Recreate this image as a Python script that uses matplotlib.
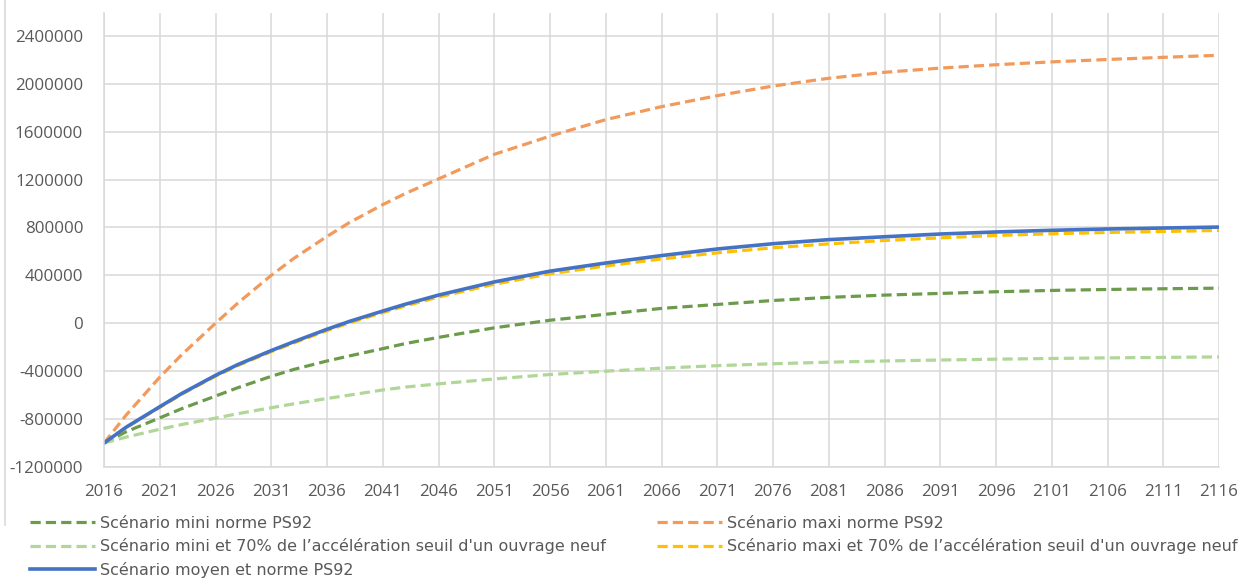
import matplotlib.pyplot as plt
from matplotlib.lines import Line2D
import numpy as np

# sample years (denser where the curves bend most)
years = [2016, 2018, 2021, 2023, 2026, 2028, 2031, 2033, 2036, 2038, 2041, 2043,
         2046, 2051, 2056, 2061, 2066, 2071, 2076, 2081, 2086, 2091, 2096, 2101,
         2106, 2111, 2116]

mini_ps92 = [-1000000, -905000, -790000, -712000, -608000, -538000, -443000,
             -386000, -315000, -273000, -212000, -170000, -118000, -38000,
             25000, 75000, 124000, 157000, 190000, 216000, 235000, 249000,
             263000, 274000, 282000, 288000, 293000]
maxi_ps92 = [-1000000, -765000, -450000, -260000, 0, 168000, 400000, 540000,
             725000, 840000, 990000, 1082000, 1205000, 1410000, 1562000,
             1700000, 1808000, 1900000, 1980000, 2045000, 2095000, 2130000,
             2158000, 2182000, 2202000, 2220000, 2237000]
mini_70 = [-1000000, -950000, -885000, -845000, -792000, -755000, -705000,
           -673000, -628000, -600000, -557000, -533000, -506000, -465000,
           -428000, -400000, -375000, -354000, -338000, -325000, -315000,
           -307000, -300000, -294000, -289000, -285000, -281000]
maxi_70 = [-1000000, -870000, -702000, -591000, -442000, -353000, -237000,
           -165000, -61000, 3000, 89000, 144000, 219000, 326000, 413000,
           478000, 537000, 588000, 630000, 663000, 691000, 713000, 733000,
           747000, 758000, 766000, 775000]
moyen_ps92 = [-1000000, -867000, -697000, -585000, -435000, -345000, -228000,
              -155000, -50000, 15000, 102000, 158000, 235000, 345000, 435000,
              503000, 565000, 620000, 664000, 698000, 722000, 745000, 762000,
              776000, 787000, 795000, 803000]

labels = ["Scénario mini norme PS92",
          "Scénario maxi norme PS92",
          "Scénario mini et 70% de l’accélération seuil d'un ouvrage neuf",
          "Scénario maxi et 70% de l’accélération seuil d'un ouvrage neuf",
          "Scénario moyen et norme PS92"]

x_ticks = np.arange(2016, 2117, 5)
y_ticks = np.arange(-1200000, 2400001, 400000)

tick_font = 'Open Sans'
legend_font = ['DejaVu Sans']

fig = plt.figure(figsize=(12.43, 5.81), dpi=100)
ax = fig.add_axes([104 / 1243, 1 - 467 / 581, (1219 - 104) / 1243, (467 - 13) / 581])

lw = 2.3
dash = (3.2, 1.6)
l_mini, = ax.plot(years, mini_ps92, color='#6B9B4B', lw=lw, dashes=dash)
l_maxi, = ax.plot(years, maxi_ps92, color='#F29A5C', lw=lw, dashes=dash)
l_mini70, = ax.plot(years, mini_70, color='#B0D698', lw=lw, dashes=dash)
l_maxi70, = ax.plot(years, maxi_70, color='#FFC000', lw=lw, dashes=dash)
l_moyen, = ax.plot(years, moyen_ps92, color='#4472C4', lw=lw + 0.3)

ax.set_xlim(2016, 2116)
ax.set_ylim(-1200000, 2590000)
ax.set_xticks(x_ticks)
ax.set_yticks(y_ticks)
ax.set_xticklabels([str(y) for y in x_ticks], family=tick_font, fontsize=12.2, color='#595959')
ax.set_yticklabels([str(v) for v in y_ticks], family=tick_font, fontsize=12.2, color='#595959')
ax.tick_params(axis='both', length=0)
ax.tick_params(axis='y', pad=15)
ax.tick_params(axis='x', pad=12)

ax.grid(True, color='#D9D9D9', lw=1.1)
ax.set_axisbelow(True)
for spine in ['right', 'top']:
    ax.spines[spine].set_visible(False)
for spine in ['left', 'bottom']:
    ax.spines[spine].set_color('#D9D9D9')
    ax.spines[spine].set_linewidth(1.1)

# thin border on the left edge of the chart area
fig.add_artist(Line2D([5 / 1243, 5 / 1243], [1, 1 - 525 / 581], color='#D9D9D9', lw=1.2))

leg_kw = dict(loc='upper left', frameon=False, handlelength=4.1, handletextpad=0.3,
              labelspacing=0.46, borderaxespad=0, borderpad=0,
              prop={'family': legend_font, 'size': 11.5})
leg1 = fig.legend([l_mini, l_mini70, l_moyen], [labels[0], labels[2], labels[4]],
                  bbox_to_anchor=(30 / 1243, 1 - 516 / 581), **leg_kw)
leg2 = fig.legend([l_maxi, l_maxi70], [labels[1], labels[3]],
                  bbox_to_anchor=(657 / 1243, 1 - 516 / 581), **leg_kw)
for leg in (leg1, leg2):
    for t in leg.get_texts():
        t.set_color('#595959')

fig.savefig('out.png', dpi=100)
